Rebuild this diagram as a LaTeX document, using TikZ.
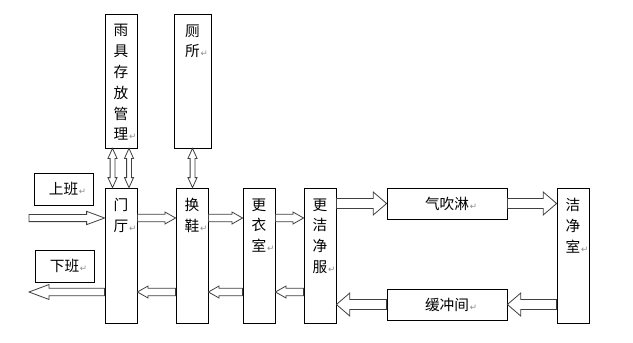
\documentclass[tikz,border=0pt]{standalone}
\usepackage{fontspec}
\usepackage{xcolor}
\usepackage{tikz}
\usetikzlibrary{calc,fit}
\newfontfamily\cjk{Noto Sans CJK SC}
\newfontfamily\symbfont{DejaVu Sans}
\newcommand\retmark{\rlap{\kern0.6pt\textcolor{black!45}{\symbfont\fontsize{6.5}{6.5}\selectfont ↵}}}

\begin{document}
\begin{tikzpicture}[
  x=0.75pt,y=-0.75pt,
  font=\cjk\fontsize{11}{15.6}\selectfont,
  room/.style={draw,line width=0.6pt,inner sep=0pt},
  tag/.style={room,text height=8.6pt,text depth=0pt},
  roomtext/.style={anchor=north,align=center,inner sep=0pt,yshift=-8pt},
  flow/.style args={#1/#2/#3}{draw=black!75,line width=0.6pt,fill=white,
    to path={($(\tikztostart)!#1!90:(\tikztotarget)$)
      -- ($(\tikztotarget)!#3!(\tikztostart)!#1!90:(\tikztotarget)$)
      -- ($(\tikztotarget)!#3!(\tikztostart)!#2!90:(\tikztotarget)$)
      -- (\tikztotarget)
      -- ($(\tikztotarget)!#3!(\tikztostart)!#2!-90:(\tikztotarget)$)
      -- ($(\tikztotarget)!#3!(\tikztostart)!#1!-90:(\tikztotarget)$)
      -- ($(\tikztostart)!#1!-90:(\tikztotarget)$) -- cycle}},
  dflow/.style args={#1/#2/#3}{draw=black!75,line width=0.6pt,fill=white,
    to path={(\tikztostart)
      -- ($(\tikztostart)!#3!(\tikztotarget)!#2!90:(\tikztotarget)$)
      -- ($(\tikztostart)!#3!(\tikztotarget)!#1!90:(\tikztotarget)$)
      -- ($(\tikztotarget)!#3!(\tikztostart)!#1!90:(\tikztotarget)$)
      -- ($(\tikztotarget)!#3!(\tikztostart)!#2!90:(\tikztotarget)$)
      -- (\tikztotarget)
      -- ($(\tikztotarget)!#3!(\tikztostart)!#2!-90:(\tikztotarget)$)
      -- ($(\tikztotarget)!#3!(\tikztostart)!#1!-90:(\tikztotarget)$)
      -- ($(\tikztostart)!#3!(\tikztotarget)!#1!-90:(\tikztotarget)$)
      -- ($(\tikztostart)!#3!(\tikztotarget)!#2!-90:(\tikztotarget)$)
      -- cycle}}
]
\useasboundingbox[fill=white] (0,0) rectangle (633,343);

\node[room,fit={(105,14) (137,148)},
      label={[roomtext]north:雨\\具\\存\\放\\管\\理\retmark}] (yuju) {};
\node[room,fit={(174,14) (211,148)},
      label={[roomtext]north:厕\\所\retmark}] (cesuo) {};

\node[tag,minimum width=44.25pt,minimum height=24pt] (shangban) at (63.5,189) {上班\retmark};
\node[tag,minimum width=44.25pt,minimum height=24pt] (xiaban) at (64.5,266) {下班\retmark};

\node[room,fit={(105,188) (137,323)},
      label={[roomtext]north:门\\厅\retmark}] (menting) {};
\node[room,fit={(176,188) (208,323)},
      label={[roomtext]north:换\\鞋\retmark}] (huanxie) {};
\node[room,fit={(243,188) (275,323)},
      label={[roomtext]north:更\\衣\\室\retmark}] (gengyi) {};
\node[room,fit={(304,188) (336,323)},
      label={[roomtext]north:更\\洁\\净\\服\retmark}] (jingfu) {};
\node[tag,minimum width=90pt,minimum height=23.25pt] (qichuilin) at (447,203.5) {气吹淋\retmark};
\node[room,fit={(557,188) (589,323)},
      label={[roomtext]north:洁\\净\\室\retmark}] (jingjing) {};
\node[tag,minimum width=90pt,minimum height=23.25pt] (huanchong) at (447,304.5) {缓冲间\retmark};

\coordinate (up) at (0,218);
\coordinate (down) at (0,292);
\coordinate (entry) at (29,218);
\coordinate (exit) at (29,292);
\coordinate (yl) at (112.5,0);
\coordinate (yr) at (129,0);

\draw[dflow=1.8pt/3.4pt/7.5pt] (yl |- yuju.south) to (yl |- menting.north);
\draw[dflow=1.8pt/3.4pt/7.5pt] (yr |- yuju.south) to (yr |- menting.north);
\draw[dflow=1.8pt/3.4pt/7.5pt] (cesuo.south) to (cesuo.south |- huanxie.north);

\draw[flow=2.7pt/5pt/13.5pt] (entry) to (menting.west |- up);
\draw[flow=2.8pt/5.6pt/15pt] (menting.west |- down) to (exit);

\draw[flow=2.8pt/4.5pt/8pt] (menting.east |- up) to (huanxie.west |- up);
\draw[flow=2.8pt/4.5pt/8pt] (huanxie.east |- up) to (gengyi.west |- up);
\draw[flow=2.8pt/4.5pt/8pt] (gengyi.east |- up) to (jingfu.west |- up);
\draw[flow=2.8pt/4.5pt/8pt] (huanxie.west |- down) to (menting.east |- down);
\draw[flow=2.8pt/4.5pt/8pt] (gengyi.west |- down) to (huanxie.east |- down);
\draw[flow=2.8pt/4.5pt/8pt] (jingfu.west |- down) to (gengyi.east |- down);

\draw[flow=3.75pt/8.6pt/10pt] (jingfu.east |- qichuilin.west) to (qichuilin.west);
\draw[flow=3.75pt/8.6pt/10pt] (qichuilin.east) to (jingjing.west |- qichuilin.east);
\draw[flow=3.75pt/8.6pt/10pt] (jingjing.west |- huanchong.east) to (huanchong.east);
\draw[flow=3.75pt/8.6pt/10pt] (huanchong.west) to (jingfu.east |- huanchong.west);
\end{tikzpicture}
\end{document}
